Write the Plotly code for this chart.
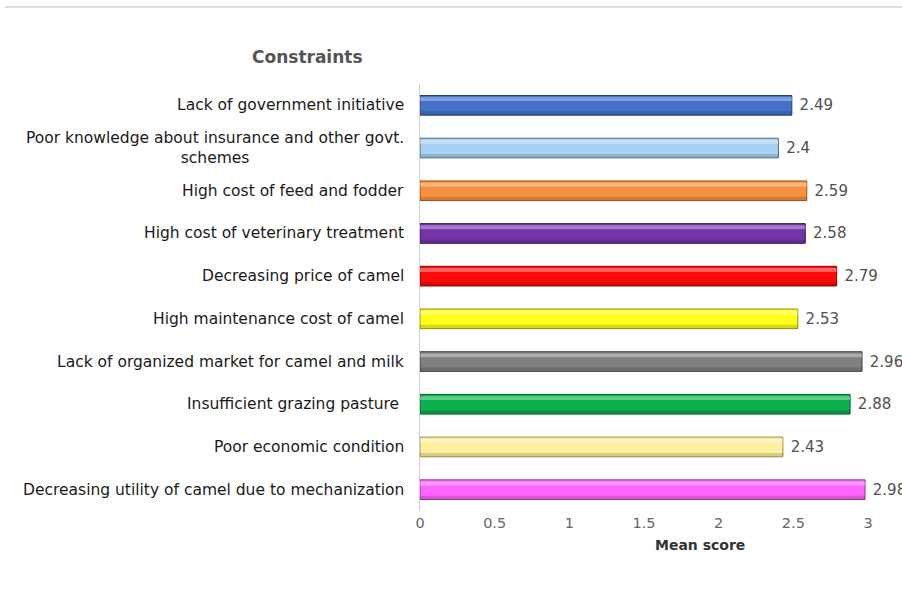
import plotly.graph_objects as go

categories = [
    "Lack of government initiative",
    "Poor knowledge about insurance and other govt.<br>schemes",
    "High cost of feed and fodder",
    "High cost of veterinary treatment",
    "Decreasing price of camel",
    "High maintenance cost of camel",
    "Lack of organized market for camel and milk",
    "Insufficient grazing pasture ",
    "Poor economic condition",
    "Decreasing utility of camel due to mechanization",
]
values = [2.49, 2.4, 2.59, 2.58, 2.79, 2.53, 2.96, 2.88, 2.43, 2.98]
labels = ["2.49", "2.4", "2.59", "2.58", "2.79", "2.53", "2.96", "2.88", "2.43", "2.98"]
colors = ["#4472C8", "#A8D2F4", "#F7913F", "#7434A8", "#FF0A0A",
          "#FFFF1A", "#808080", "#0DB04F", "#FFF0A0", "#FF66FF"]
edges = ["#1F3F80", "#4A6A8A", "#9A5010", "#3A1060", "#900000",
         "#909000", "#404040", "#006020", "#A08840", "#903090"]
xticks = [0, 0.5, 1, 1.5, 2, 2.5, 3]
xticklabels = ["0", "0.5", "1", "1.5", "2", "2.5", "3"]

FONT = "DejaVu Sans, Verdana, sans-serif"

fig = go.Figure()
# main bars
fig.add_trace(go.Bar(
    x=values, y=categories, orientation="h", width=0.46, offset=-0.23,
    marker=dict(color=colors, line=dict(color=edges, width=1)),
    text=labels, texttemplate=" %{text}", textposition="outside", cliponaxis=False,
    textfont=dict(family=FONT, size=15, color="#505050"),
    hoverinfo="x+y",
))
# glossy highlight strip near the top of each bar
fig.add_trace(go.Bar(
    x=values, y=categories, orientation="h", width=0.09, offset=-0.19,
    marker=dict(color="rgba(255,255,255,0.35)", line=dict(width=0)),
    hoverinfo="skip",
))
# shaded strip along the bottom of each bar
fig.add_trace(go.Bar(
    x=values, y=categories, orientation="h", width=0.08, offset=0.14,
    marker=dict(color="rgba(0,0,0,0.15)", line=dict(width=0)),
    hoverinfo="skip",
))

L, R, T, B = 420, 34, 84, 89
W, H = 902, 600
pw, ph = W - L - R, H - T - B

def px_x(x):
    return (x - L) / pw

def px_y(y):
    return 1 - (y - T) / ph

annotations = []
for c in categories:
    annotations.append(dict(
        x=0, xref="paper", y=c, yref="y", text=c, showarrow=False,
        xanchor="right", yanchor="middle", align="center", xshift=-14,
        font=dict(family=FONT, size=15.5, color="#1a1a1a"),
    ))
annotations.append(dict(
    x=px_x(307), y=px_y(57), xref="paper", yref="paper",
    xanchor="center", yanchor="middle",
    text="<b>Constraints</b>", showarrow=False,
    font=dict(family=FONT, size=17, color="#555555"),
))
annotations.append(dict(
    x=px_x(700), y=px_y(545), xref="paper", yref="paper",
    xanchor="center", yanchor="middle",
    text="<b>Mean score</b>", showarrow=False,
    font=dict(family=FONT, size=14, color="#333333"),
))

fig.update_layout(
    width=W, height=H,
    margin=dict(l=L, r=R, t=T, b=B, autoexpand=False),
    paper_bgcolor="white", plot_bgcolor="white",
    showlegend=False, barmode="overlay",
    annotations=annotations,
    shapes=[dict(type="line", xref="paper", yref="paper",
                 x0=px_x(5), x1=px_x(902), y0=px_y(7), y1=px_y(7),
                 line=dict(color="#DDDDDD", width=2))],
    xaxis=dict(range=[0, 3], tickvals=xticks, ticktext=xticklabels,
               showgrid=False, zeroline=False, showline=False,
               tickfont=dict(family=FONT, size=14.5, color="#666666"),
               ticks="", ticklabelstandoff=1),
    yaxis=dict(autorange="reversed", showticklabels=False, showgrid=False,
               showline=True, linecolor="#D0D0D0", linewidth=1, ticks="",
               zeroline=False),
)

fig.write_html("out.html")
